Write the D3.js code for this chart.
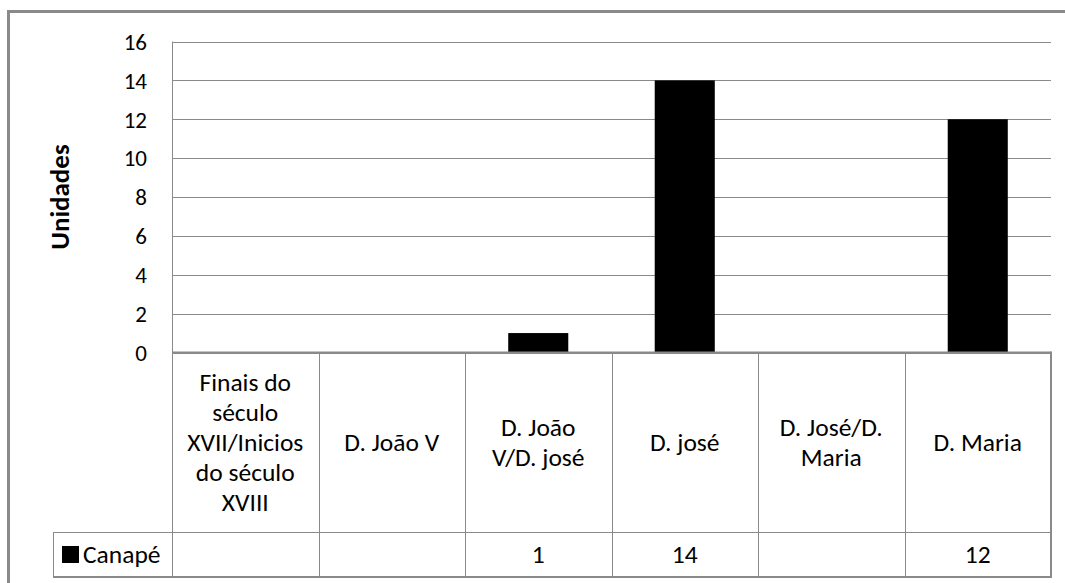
<!DOCTYPE html>
<html>
<head>
<meta charset="utf-8">
<script src="https://cdn.jsdelivr.net/npm/d3@7/dist/d3.min.js"></script>
<style>
  html, body { margin: 0; padding: 0; background: #fff; }
  svg { display: block; }
  text { font-family: Calibri, Carlito, Lato, sans-serif; fill: #000; }
</style>
</head>
<body>
<svg id="chart" width="1065" height="583"></svg>
<script>
// ---- data ----
const categories = [
  ["Finais do", "século", "XVII/Inicios", "do século", "XVIII"],
  ["D. João V"],
  ["D. João", "V/D. josé"],
  ["D. josé"],
  ["D. José/D.", "Maria"],
  ["D. Maria"]
];
const seriesName = "Canapé";
const seriesValues = [null, null, 1, 14, null, 12];
const yTicks = [0, 2, 4, 6, 8, 10, 12, 14, 16];
const yTitle = "Unidades";

// ---- layout ----
const W = 1065, H = 583;
const plot = { left: 172, right: 1051, top: 41.5, bottom: 352.5 };
const headerBottom = 532;
const tableBottom = 577;
const legendLeft = 53;
const gridColor = "#8a8a8a";
const fontSize = 25.5;

const svg = d3.select("#chart");

const x = d3.scaleBand()
  .domain(d3.range(categories.length))
  .range([plot.left, plot.right])
  .paddingInner(0).paddingOuter(0);

const y = d3.scaleLinear().domain([0, 16]).range([plot.bottom, plot.top]);

// outer chart border (extends beyond the visible frame)
svg.append("rect")
  .attr("x", 8.5).attr("y", 11.5)
  .attr("width", W + 20).attr("height", H + 20)
  .attr("fill", "none").attr("stroke", gridColor).attr("stroke-width", 3);

// gridlines
const grid = svg.append("g")
  .attr("transform", `translate(${plot.left},0)`)
  .call(d3.axisLeft(y).tickValues(yTicks).tickSize(-(plot.right - plot.left)).tickFormat(""));
grid.select(".domain").remove();
grid.selectAll("line").attr("stroke", gridColor).attr("stroke-width", 1)
  .attr("shape-rendering", "crispEdges");

// y tick labels
const yAxis = svg.append("g")
  .attr("transform", `translate(147,0)`)
  .call(d3.axisLeft(y).tickValues(yTicks).tickSize(0).tickPadding(0));
yAxis.select(".domain").remove();
yAxis.selectAll("text")
  .style("font-family", "Calibri, Carlito, Lato, sans-serif")
  .attr("font-size", 23).attr("fill", "#000").attr("dy", "0.34em");

// y axis line
svg.append("line")
  .attr("x1", plot.left + 0.5).attr("x2", plot.left + 0.5)
  .attr("y1", plot.top).attr("y2", headerBottom)
  .attr("stroke", gridColor).attr("stroke-width", 1);

// y title
svg.append("text")
  .attr("transform", `translate(69,${(plot.top + plot.bottom) / 2}) rotate(-90)`)
  .attr("text-anchor", "middle")
  .attr("font-size", 27).attr("font-weight", "bold")
  .text(yTitle);

// bars
const barW = x.bandwidth() * 0.41;
svg.append("g").selectAll("rect")
  .data(seriesValues.map((v, i) => ({ v, i })).filter(d => d.v != null))
  .join("rect")
  .attr("x", d => x(d.i) + (x.bandwidth() - barW) / 2)
  .attr("width", barW)
  .attr("y", d => y(d.v))
  .attr("height", d => y(0) - y(d.v))
  .attr("fill", "#000");

// ---- data table ----
const table = svg.append("g");
table.selectAll("line.vdiv")
  .data(d3.range(1, categories.length))
  .join("line")
  .attr("x1", i => Math.round(x(i)) + 0.5).attr("x2", i => Math.round(x(i)) + 0.5)
  .attr("y1", plot.bottom).attr("y2", tableBottom)
  .attr("stroke", gridColor).attr("stroke-width", 1);
table.append("line")
  .attr("x1", legendLeft + 0.5).attr("x2", legendLeft + 0.5)
  .attr("y1", headerBottom).attr("y2", tableBottom)
  .attr("stroke", gridColor).attr("stroke-width", 1);
table.append("line")
  .attr("x1", plot.left + 0.5).attr("x2", plot.left + 0.5)
  .attr("y1", headerBottom).attr("y2", tableBottom)
  .attr("stroke", gridColor).attr("stroke-width", 1);
table.append("line")
  .attr("x1", legendLeft).attr("x2", plot.right)
  .attr("y1", headerBottom + 0.5).attr("y2", headerBottom + 0.5)
  .attr("stroke", gridColor).attr("stroke-width", 1);
table.append("line")
  .attr("x1", plot.left).attr("x2", plot.right)
  .attr("y1", plot.bottom).attr("y2", plot.bottom)
  .attr("stroke", gridColor).attr("stroke-width", 2);
table.append("line")
  .attr("x1", legendLeft).attr("x2", plot.right + 1)
  .attr("y1", tableBottom).attr("y2", tableBottom)
  .attr("stroke", gridColor).attr("stroke-width", 2);
table.append("line")
  .attr("x1", plot.right).attr("x2", plot.right)
  .attr("y1", plot.bottom - 1).attr("y2", tableBottom + 1)
  .attr("stroke", gridColor).attr("stroke-width", 2);

// category labels
const lineH = 30;
const headerMid = (plot.bottom + headerBottom) / 2;
categories.forEach((lines, i) => {
  const t = table.append("text")
    .attr("text-anchor", "middle")
    .attr("font-size", fontSize);
  lines.forEach((ln, k) => {
    t.append("tspan")
      .attr("x", x(i) + x.bandwidth() / 2)
      .attr("y", headerMid + (k - (lines.length - 1) / 2) * lineH)
      .attr("dy", "0.35em")
      .text(ln);
  });
});

// legend row
const rowMid = (headerBottom + tableBottom) / 2;
table.append("rect")
  .attr("x", 62).attr("y", rowMid - 8.5).attr("width", 17).attr("height", 17)
  .attr("fill", "#000");
table.append("text")
  .attr("x", 83).attr("y", rowMid).attr("dy", "0.35em")
  .attr("font-size", fontSize)
  .text(seriesName);

// values in legend row
table.selectAll("text.val")
  .data(seriesValues.map((v, i) => ({ v, i })).filter(d => d.v != null))
  .join("text")
  .attr("class", "val")
  .attr("x", d => x(d.i) + x.bandwidth() / 2)
  .attr("y", rowMid).attr("dy", "0.35em")
  .attr("text-anchor", "middle")
  .attr("font-size", fontSize)
  .text(d => d.v);
</script>
</body>
</html>
